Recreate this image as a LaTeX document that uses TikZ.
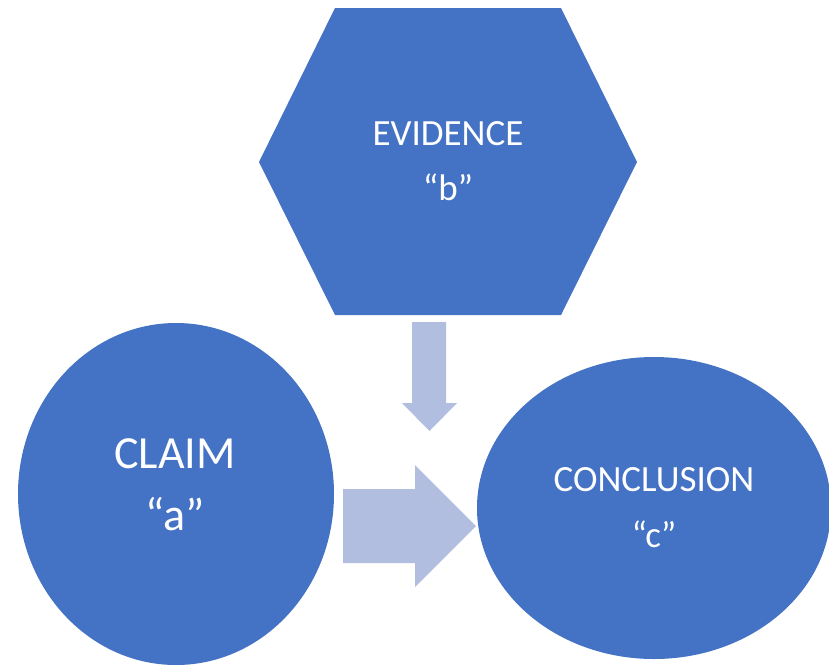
\documentclass[tikz,border=0pt]{standalone}
\usepackage{fontspec}
\setmainfont{Carlito}
\usetikzlibrary{shapes.geometric}
\definecolor{shapeblue}{HTML}{4472C4}
\definecolor{arrowblue}{HTML}{B1BEE0}

\begin{document}
\begin{tikzpicture}[
    x=1pt, y=-1pt,
    blob/.style={ellipse, fill=shapeblue, inner sep=0pt, outer sep=0pt},
    lbl/.style={text=white, anchor=base, inner sep=0pt},
    midfont/.style={font=\fontsize{37}{44}\selectfont},
    bigfont/.style={font=\fontsize{46}{55}\selectfont},
    blockarrow/.style={fill=arrowblue},
]
\useasboundingbox (0,0) rectangle (829,664);

% Evidence hexagon
\fill[shapeblue] (335,8) -- (561,8) -- (637,162) -- (561,315)
    -- (335,315) -- (259,162) -- cycle;
\node[lbl, midfont] (evidence) at (448,145) {EVIDENCE};
\node[lbl, midfont] (evidencemark) at (448,200) {“b”};

% Claim ellipse
\node[blob, minimum width=316pt, minimum height=342pt] (claim) at (176,494) {};
\node[lbl, bigfont] (claimtitle) at (175,468) {CLAIM};
\node[lbl, bigfont] (claimmark) at (175,530) {“a”};

% Conclusion ellipse
\node[blob, minimum width=354pt, minimum height=302pt] (conclusion) at (654,508) {};
\node[lbl, midfont] (conclusiontitle) at (654,491) {CONCLUSION};
\node[lbl, midfont] (conclusionmark) at (654,547) {“c”};

% block arrows
\fill[blockarrow] (412,322) -- (446,322) -- (446,403) -- (457,403)
    -- (429.5,431) -- (402,403) -- (412,403) -- cycle;
\fill[blockarrow] (343,489) -- (415,489) -- (415,465) -- (476,526)
    -- (415,587) -- (415,563) -- (343,563) -- cycle;

\end{tikzpicture}
\end{document}
